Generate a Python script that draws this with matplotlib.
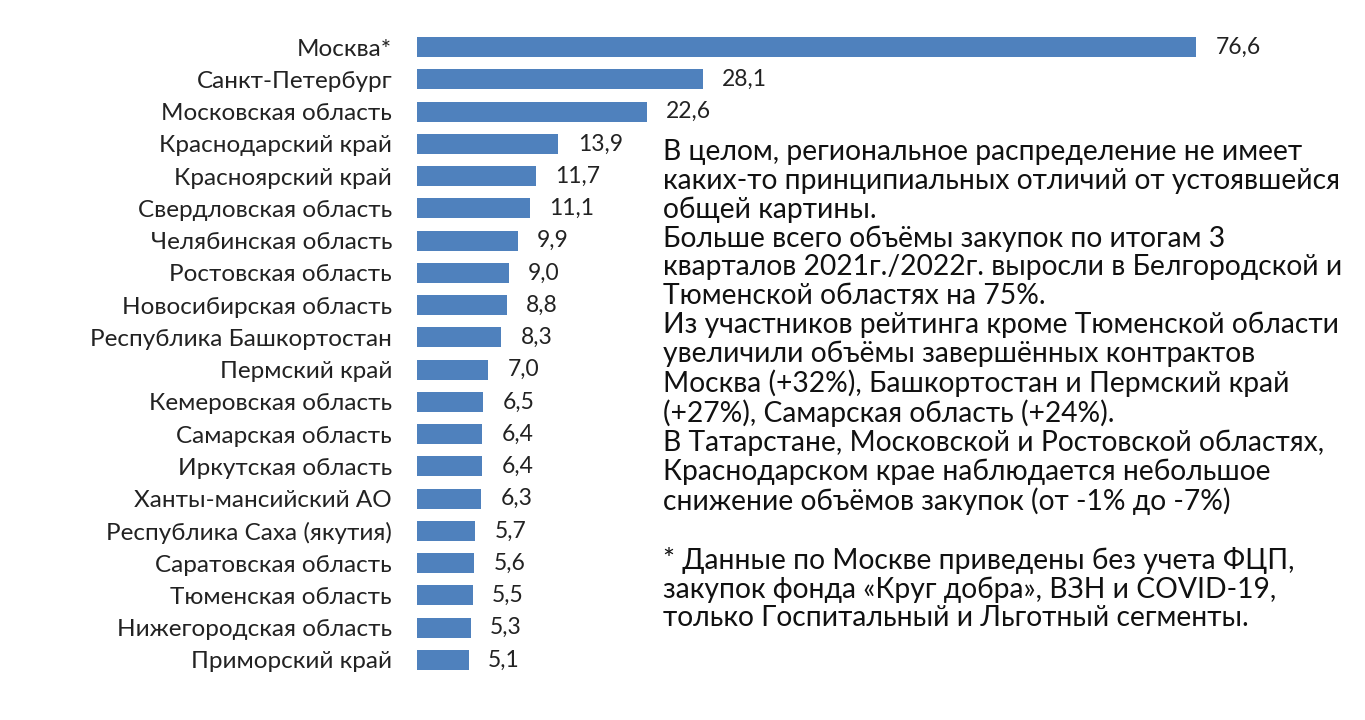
import matplotlib.pyplot as plt

plt.rcParams['font.family'] = ['Lato', 'DejaVu Sans']

regions = ['Москва*', 'Санкт-Петербург', 'Московская область', 'Краснодарский край',
           'Красноярский край', 'Свердловская область', 'Челябинская область',
           'Ростовская область', 'Новосибирская область', 'Республика Башкортостан',
           'Пермский край', 'Кемеровская область', 'Самарская область', 'Иркутская область',
           'Ханты-мансийский АО', 'Республика Саха (якутия)', 'Саратовская область',
           'Тюменская область', 'Нижегородская область', 'Приморский край']
values = [76.6, 28.1, 22.6, 13.9, 11.7, 11.1, 9.9, 9.0, 8.8, 8.3,
          7.0, 6.5, 6.4, 6.4, 6.3, 5.7, 5.6, 5.5, 5.3, 5.1]

note = ("В целом, региональное распределение не имеет\n"
        "каких-то принципиальных отличий от устоявшейся\n"
        "общей картины.\n"
        "Больше всего объёмы закупок по итогам 3\n"
        "кварталов 2021г./2022г. выросли в Белгородской и\n"
        "Тюменской областях на 75%.\n"
        "Из участников рейтинга кроме Тюменской области\n"
        "увеличили объёмы завершённых контрактов\n"
        "Москва (+32%), Башкортостан и Пермский край\n"
        "(+27%), Самарская область (+24%).\n"
        "В Татарстане, Московской и Ростовской областях,\n"
        "Краснодарском крае наблюдается небольшое\n"
        "снижение объёмов закупок (от -1% до -7%)\n"
        "\n"
        "* Данные по Москве приведены без учета ФЦП,\n"
        "закупок фонда «Круг добра», ВЗН и COVID-19,\n"
        "только Госпитальный и Льготный сегменты.")

fig = plt.figure(figsize=(13.65, 7.2), dpi=100)
ax = fig.add_axes([417 / 1365, 1 - 676 / 720, 946 / 1365, 645 / 720])
y = list(range(len(regions)))
ax.barh(y, values, height=0.62, color='#4F81BD')
for yi, v in zip(y, values):
    ax.text(v + 1.9, yi, f'{v:.1f}'.replace('.', ','), va='center', ha='left',
            fontsize=16.5, color='#222222')
ax.set_yticks(y)
ax.set_yticklabels(regions, fontsize=17.5, color='#222222')
ax.set_xlim(0, 93)
ax.set_ylim(len(regions) - 0.5, -0.5)
ax.set_xticks([])
ax.tick_params(axis='y', length=0, pad=18)
for s in ax.spines.values():
    s.set_visible(False)

fig.text(663 / 1365, 1 - 139 / 720, note, ha='left', va='top', fontsize=20.3,
         color='#111111', linespacing=1.12)

fig.savefig('out.png', dpi=100)
